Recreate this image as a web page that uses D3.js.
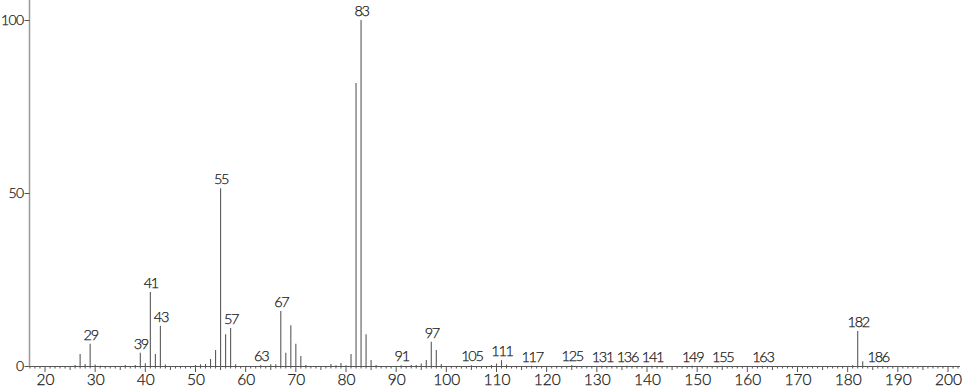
<!DOCTYPE html>
<html>
<head>
<meta charset="utf-8">
<script src="https://cdn.jsdelivr.net/npm/d3@7"></script>
<style>
  body { margin: 0; background: #fff; }
  text { font-family: Lato, "DejaVu Sans", sans-serif; fill: #222; }
</style>
</head>
<body>
<script>
// m/z values and relative intensities
var mz = [26, 27, 28, 29, 30, 31, 36, 38, 39, 40, 41, 42, 43, 44,
          50, 51, 52, 53, 54, 55, 56, 57, 58, 63, 65, 66, 67, 68, 69, 70, 71, 72,
          77, 78, 79, 80, 81, 82, 83, 84, 85, 86, 91, 93, 94, 95, 96, 97, 98, 99,
          105, 109, 110, 111, 112, 117, 125, 131, 136, 141, 149, 155, 163,
          181, 182, 183, 186];
var intensity = [0.3, 3.5, 0.6, 6.4, 0.4, 0.1, 0.3, 0.3, 3.8, 0.8, 21.4, 3.5, 11.6, 0.4,
                 0.3, 0.5, 0.6, 2.0, 4.6, 51.4, 9.2, 11.0, 0.5, 0.2, 0.5, 0.5, 15.9, 3.8, 11.8, 6.4, 2.9, 0.3,
                 0.6, 0.2, 0.9, 0.2, 3.5, 81.8, 100, 9.2, 1.7, 0.3, 0.2, 0.3, 0.3, 0.7, 1.7, 7.0, 4.6, 0.6,
                 0.2, 0.3, 0.7, 1.7, 0.4, 0.1, 0.3, 0.1, 0.1, 0.1, 0.1, 0.1, 0.1,
                 0.2, 10.1, 1.4, 0.1];
// peaks that carry a label
var labelled = [29, 39, 41, 43, 55, 57, 63, 67, 83, 91, 97, 105, 111, 117, 125,
                131, 136, 141, 149, 155, 163, 182, 186];
var xTicks = d3.range(20, 201, 10);
var yTicks = [0, 50, 100];

var width = 966, height = 389;

var svg = d3.select("body").append("svg")
    .attr("width", width)
    .attr("height", height);

var x = d3.scaleLinear().domain([20, 200]).range([45, 948]);
var y = d3.scaleLinear().domain([0, 100]).range([366, 20]);

var peaks = mz.map(function(m, i) { return {mz: m, v: intensity[i]}; });

// bars
svg.append("g")
  .selectAll("line")
  .data(peaks)
  .enter().append("line")
    .attr("x1", function(d) { return x(d.mz); })
    .attr("x2", function(d) { return x(d.mz); })
    .attr("y1", y(0))
    .attr("y2", function(d) { return y(d.v); })
    .attr("stroke", "#5a5a5a")
    .attr("stroke-width", 1.1);

// peak labels (narrow digits like the original)
svg.append("g")
  .selectAll("text")
  .data(peaks.filter(function(d) { return labelled.indexOf(d.mz) >= 0; }))
  .enter().append("text")
    .attr("x", function(d) { return x(d.mz) + 0.5; })
    .attr("y", function(d) { return Math.min(y(d.v) - 4, 362); })
    .attr("text-anchor", "middle")
    .style("font-size", "14.5px")
    .style("letter-spacing", "-1.3px")
    .style("font-weight", 300)
    .attr("fill", "#111")
    .style("stroke", "#111")
    .style("stroke-width", 0.25)
    .text(function(d) { return d.mz; });

// x axis line + ticks
svg.append("line")
    .attr("x1", 29).attr("x2", 960)
    .attr("y1", y(0) + 0.5).attr("y2", y(0) + 0.5)
    .attr("stroke", "#555");

svg.append("g")
  .selectAll("line")
  .data(d3.range(17, 203))
  .enter().append("line")
    .attr("x1", function(d) { return x(d); })
    .attr("x2", function(d) { return x(d); })
    .attr("y1", y(0) + 0.5)
    .attr("y2", function(d) { return y(0) + (d % 10 === 0 ? 6 : d % 5 === 0 ? 4 : 2.5); })
    .attr("stroke", "#555");

var xAxis = d3.axisBottom(x).tickValues(xTicks).tickSize(0).tickPadding(5);
var gx = svg.append("g")
    .attr("transform", "translate(0," + (y(0) + 3) + ")")
    .call(xAxis);
gx.select(".domain").remove();
gx.selectAll("text")
    .style("font-size", "15.5px")
    .style("font-weight", 300)
    .style("font-family", "Lato, 'DejaVu Sans', sans-serif")
    .attr("fill", "#111")
    .style("stroke", "#111")
    .style("stroke-width", 0.25);

// y axis
svg.append("line")
    .attr("x1", 29.5).attr("x2", 29.5)
    .attr("y1", 0).attr("y2", y(0) + 0.5)
    .attr("stroke", "#999")
    .attr("stroke-width", 1.5);

var yAxis = d3.axisLeft(y).tickValues(yTicks).tickSize(5).tickPadding(1);
var gy = svg.append("g")
    .attr("transform", "translate(29.5,0)")
    .call(yAxis);
gy.select(".domain").remove();
gy.selectAll("line").attr("stroke", "#555");
gy.selectAll("text")
    .style("font-size", "14px")
    .style("letter-spacing", "-0.6px")
    .style("font-weight", 300)
    .style("font-family", "Lato, 'DejaVu Sans', sans-serif")
    .attr("fill", "#111")
    .style("stroke", "#111")
    .style("stroke-width", 0.25);
</script>
</body>
</html>
